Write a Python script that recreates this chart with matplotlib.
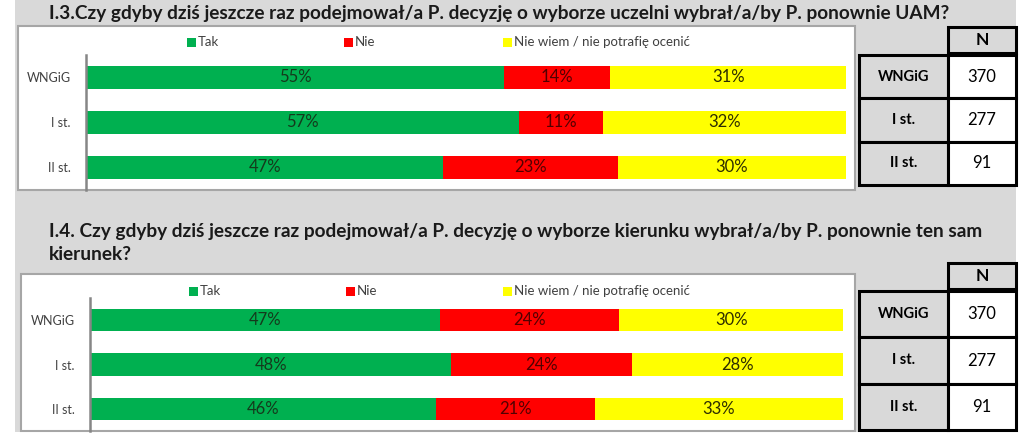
import matplotlib
matplotlib.use("Agg")
import matplotlib.pyplot as plt
from matplotlib.patches import Rectangle
import numpy as np

plt.rcParams["font.family"] = ["Lato", "DejaVu Sans"]

# data
categories = ["WNGiG", "I st.", "II st."]
series_names = ["Tak", "Nie", "Nie wiem / nie potrafię ocenić"]
series_colors = ["#00b050", "#ff0000", "#ffff00"]
label_colors = ["#143a1c", "#520000", "#2e2e00"]

title_13 = "I.3.Czy gdyby dziś jeszcze raz podejmował/a P. decyzję o wyborze uczelni wybrał/a/by P. ponownie UAM?"
tak_13 = [55, 57, 47]
nie_13 = [14, 11, 23]
nw_13 = [31, 32, 30]

title_14 = ("I.4. Czy gdyby dziś jeszcze raz podejmował/a P. decyzję o wyborze kierunku wybrał/a/by P. ponownie ten sam\n"
            "kierunek?")
tak_14 = [47, 48, 46]
nie_14 = [24, 24, 21]
nw_14 = [30, 28, 33]

n_header = "N"
n_values = [370, 277, 91]

W, H = 1023, 437
fig = plt.figure(figsize=(W / 100, H / 100), dpi=100)

# overlay in pixel coordinates for background, frames, titles and tables
bg = fig.add_axes([0, 0, 1, 1], zorder=0)
bg.set_xlim(0, W)
bg.set_ylim(H, 0)
bg.axis("off")
bg.add_patch(Rectangle((15, 0), 1001, 432, facecolor="#d9d9d9", edgecolor="none"))


def px_axes(x0, y0, x1, y1):
    return fig.add_axes([x0 / W, 1 - y1 / H, (x1 - x0) / W, (y1 - y0) / H], zorder=2)


def draw_panel(box, axbox, legend_y, legend_x, values, table_box, header_box):
    bx0, by0, bx1, by1 = box
    bg.add_patch(Rectangle((bx0, by0), bx1 - bx0, by1 - by0, facecolor="white",
                           edgecolor="#a6a6a6", lw=1.5))

    ax = px_axes(*axbox)
    ax.patch.set_alpha(0)
    y = np.arange(len(categories))
    data = np.array(values, dtype=float)
    data = data / data.sum(axis=0) * 100
    left = np.zeros(len(categories))
    for i in range(len(series_names)):
        ax.barh(y, data[i], left=left, height=0.5, color=series_colors[i], edgecolor="none")
        for j in range(len(categories)):
            ax.text(left[j] + data[i][j] / 2, y[j], f"{values[i][j]}%", ha="center",
                    va="center", fontsize=12, color=label_colors[i])
        left += data[i]
    ax.set_xlim(0, 100)
    ax.set_ylim(len(categories) - 0.5, -0.5)
    ax.set_yticks(y)
    ax.set_yticklabels(categories, fontsize=9, color="#404040")
    ax.tick_params(axis="y", length=0, pad=11)
    ax.set_xticks([])
    for s in ["top", "right", "bottom"]:
        ax.spines[s].set_visible(False)
    ax.spines["left"].set_color("#868686")
    ax.spines["left"].set_linewidth(1.8)

    # legend
    for i, name in enumerate(series_names):
        bg.add_patch(Rectangle((legend_x[i], legend_y - 4.5), 9, 9,
                               facecolor=series_colors[i], edgecolor="none"))
        bg.text(legend_x[i] + 11, legend_y, name, fontsize=9.5, color="#404040",
                ha="left", va="center")

    # N table
    hx0, hy0, hx1, hy1 = header_box
    bg.add_patch(Rectangle((hx0, hy0), hx1 - hx0, hy1 - hy0, facecolor="#d9d9d9",
                           edgecolor="black", lw=2.2, zorder=3))
    bg.text((hx0 + hx1) / 2, (hy0 + hy1) / 2, n_header, fontsize=12.5, fontweight="bold",
            ha="center", va="center", zorder=4)
    tx0, ty0, tx1, ty1 = table_box
    row_h = (ty1 - ty0) / len(categories)
    for j, cat in enumerate(categories):
        r0 = ty0 + j * row_h
        bg.add_patch(Rectangle((tx0, r0), hx0 - tx0, row_h, facecolor="#d9d9d9",
                               edgecolor="black", lw=2.2, zorder=3))
        bg.add_patch(Rectangle((hx0, r0), tx1 - hx0, row_h, facecolor="white",
                               edgecolor="black", lw=2.2, zorder=3))
        bg.text((tx0 + hx0) / 2, r0 + row_h / 2, cat, fontsize=10.5, fontweight="bold",
                ha="center", va="center", zorder=4)
        bg.text((hx0 + tx1) / 2, r0 + row_h / 2, str(n_values[j]), fontsize=12,
                ha="center", va="center", zorder=4)


bg.text(49, 14, title_13, fontsize=13.7, fontweight="bold", ha="left", va="center",
        color="#1a1a1a")
draw_panel((18, 26, 855, 190), (86, 55, 846, 190), 42, [187, 344, 503],
           [tak_13, nie_13, nw_13], (859, 55, 1016, 185), (948, 27, 1016, 53))

bg.text(49, 243, title_14, fontsize=13.7, fontweight="bold", ha="left", va="center",
        color="#1a1a1a", linespacing=1.45)
draw_panel((21, 274, 855, 431), (90, 298, 843, 431), 291, [189, 346, 503],
           [tak_14, nie_14, nw_14], (859, 291, 1016, 430), (948, 263, 1016, 289))

fig.savefig("out.png", dpi=100)
